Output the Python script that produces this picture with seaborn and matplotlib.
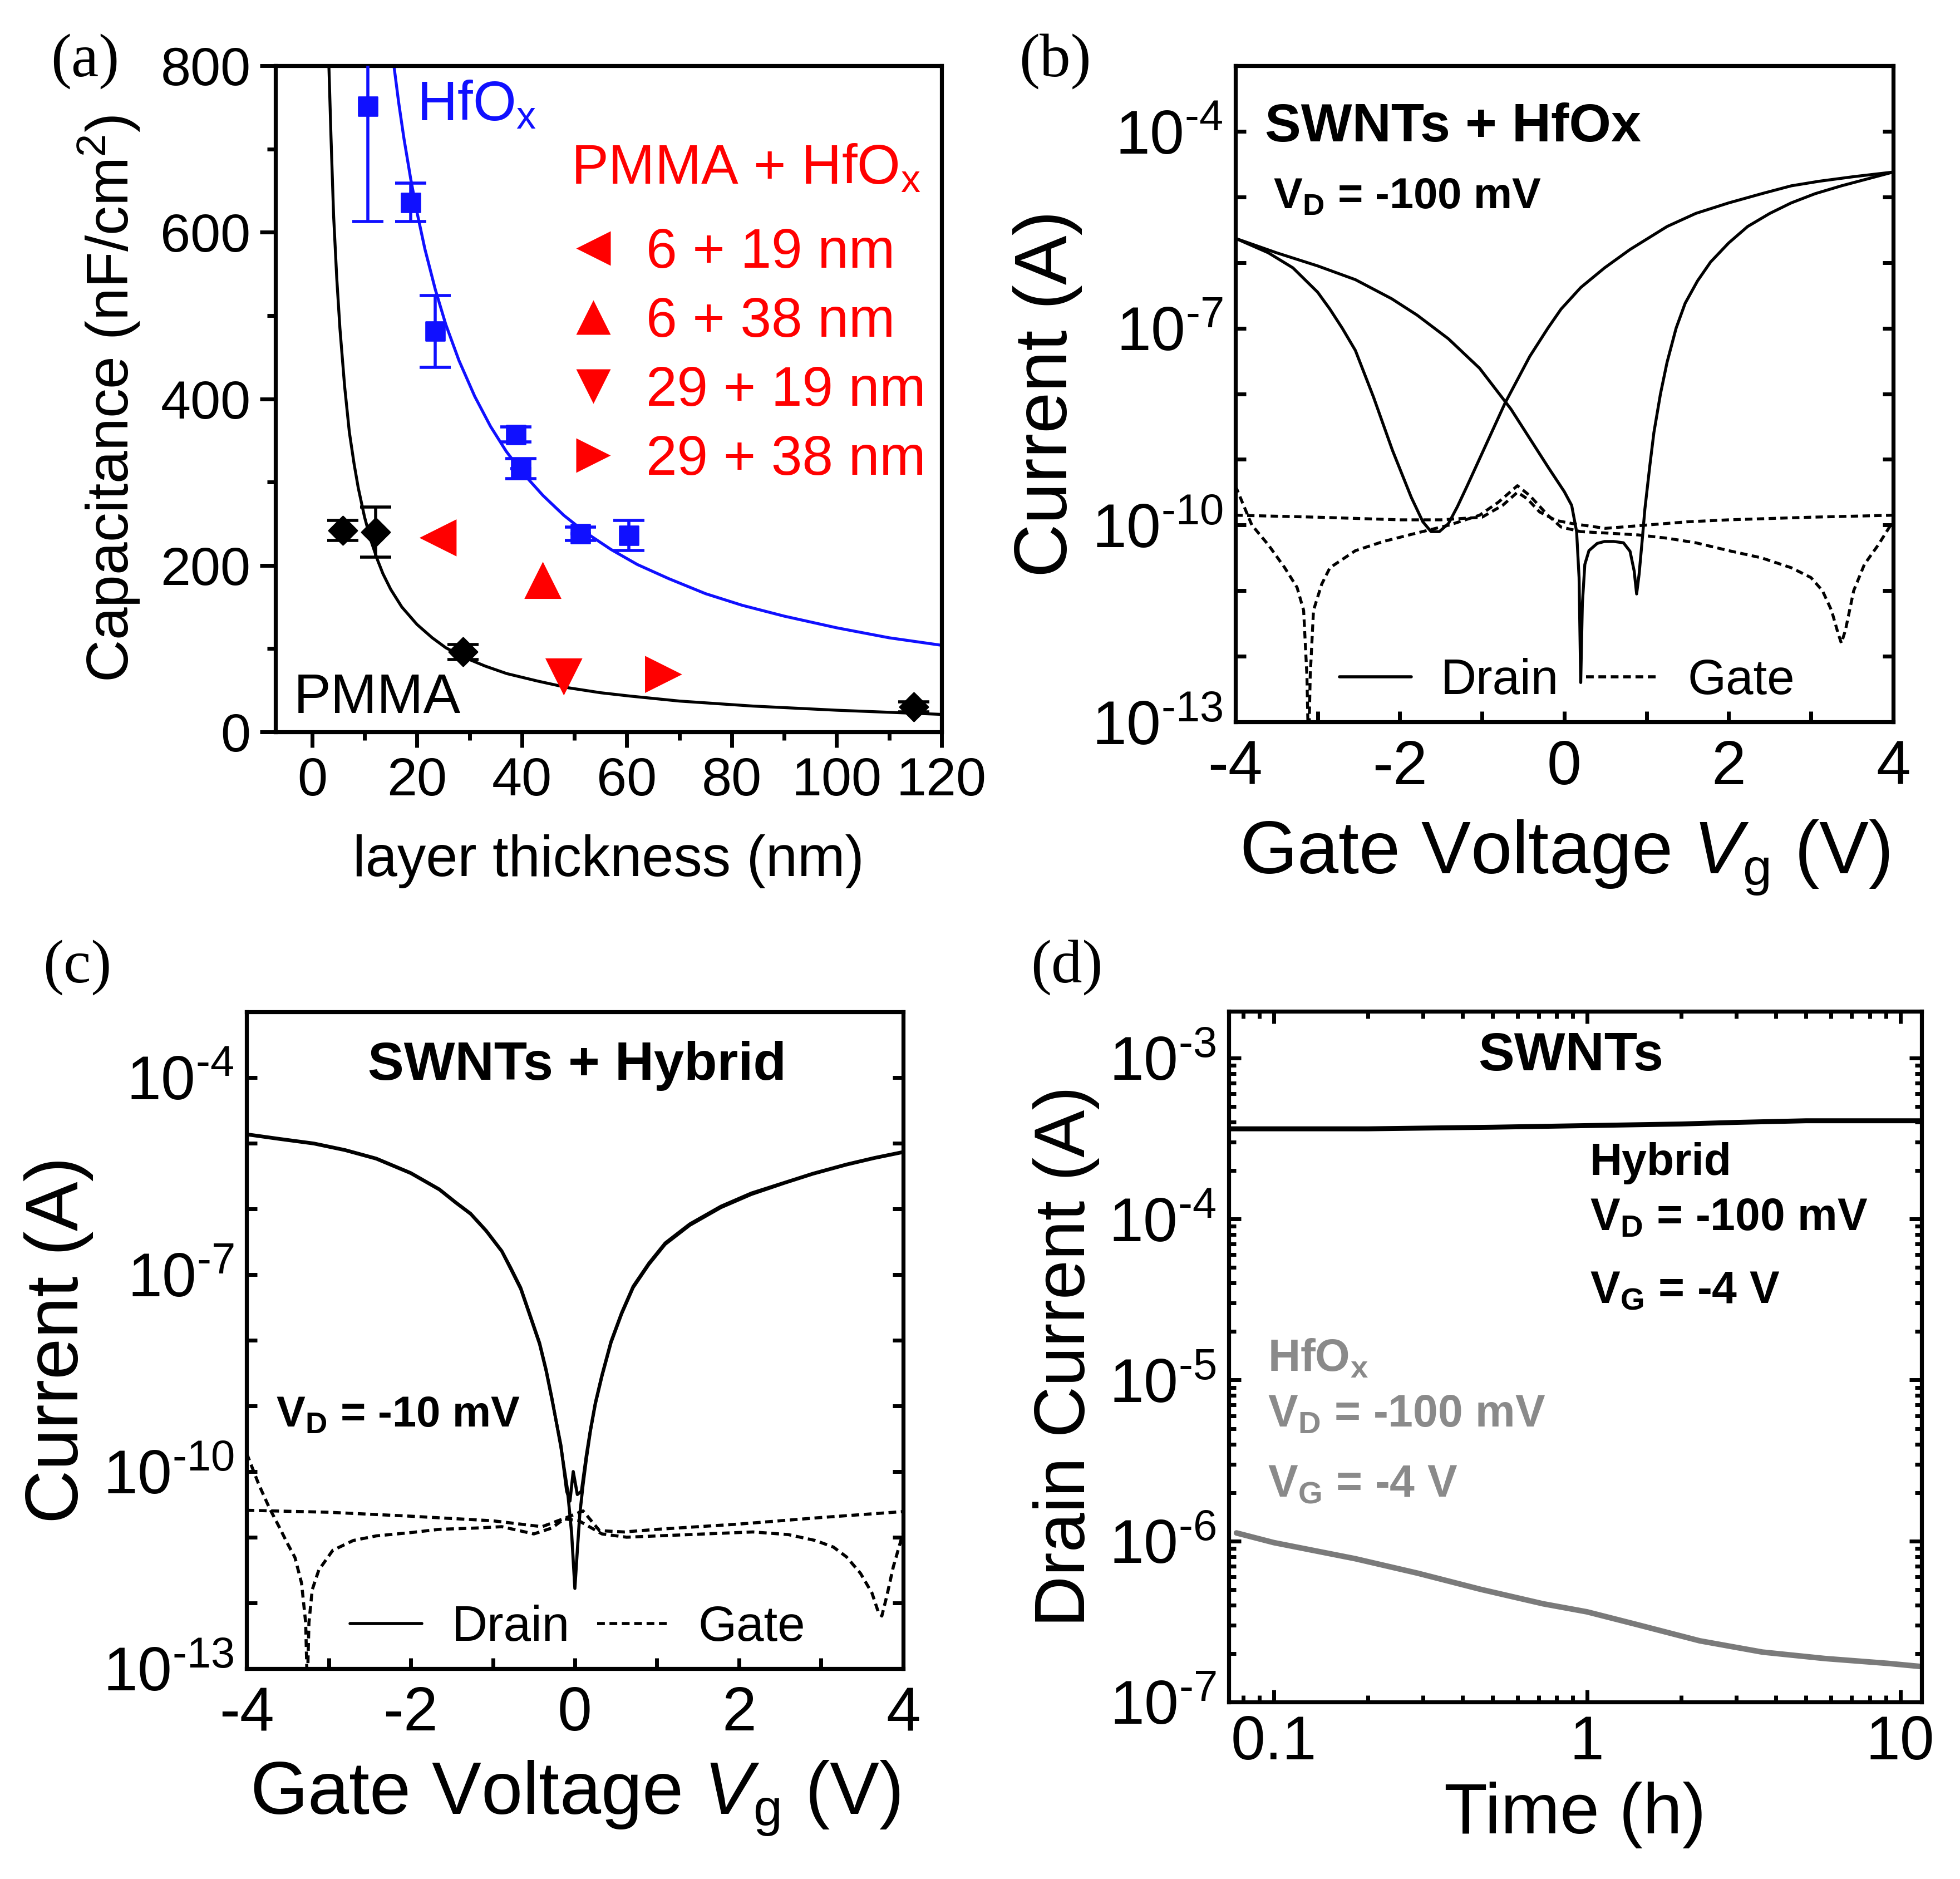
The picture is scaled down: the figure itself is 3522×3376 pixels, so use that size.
import numpy as np
import pandas as pd
import matplotlib
matplotlib.use("Agg")
import matplotlib.pyplot as plt
import matplotlib.ticker as mticker
from matplotlib.lines import Line2D
import seaborn as sns

# ---------------- (a) capacitance vs layer thickness ----------------
pmma_thick = [5.9, 12.1, 28.8, 114.7]
pmma_cap = [242, 240, 96, 30]
pmma_cap_err = [12, 30, 9, 6]
pmma_thick_err = [2.0, 1.5, 1.8, 2.0]

hfox_thick = [10.6, 18.8, 23.5, 38.8, 39.8, 51.2, 60.4]
hfox_cap = [751, 636, 481, 357, 316, 238, 236]
hfox_cap_err = [138, 23, 43, 9, 12, 8, 18]
hfox_thick_err = [0.5, 1.5, 1.0, 1.5, 2.0, 2.0, 1.0]

pmma_fit_x = [3.2, 3.6, 4.1, 4.7, 5.3, 6.2, 7.1, 8.0, 8.8, 10.0, 11.2, 12.5, 13.5, 15.0,
              17.1, 20.0, 22.9, 25.5, 28.8, 33.0, 37.1, 43.0, 48.8, 55.0, 60.6, 70.0,
              84.0, 100.0, 120.0]
pmma_fit_y = [800, 715, 620, 545, 485, 415, 360, 322, 293, 258, 230, 206, 190, 171,
              150, 129, 113, 101, 90, 79, 70, 61, 53, 47, 43, 37, 31, 26, 21]

hfox_fit_x = [15.6, 16.5, 17.5, 18.8, 20, 21.5, 23.5, 25.5, 28, 31, 34, 37, 40, 44, 48,
              52, 57, 62, 68, 75, 82, 90, 100, 110, 120]
hfox_fit_y = [800, 756, 713, 664, 624, 580, 531, 489, 446, 403, 367, 337, 312, 284, 260,
              240, 219, 201, 184, 166, 152, 139, 125, 113, 104]

stack_labels = ["6 + 19 nm", "6 + 38 nm", "29 + 19 nm", "29 + 38 nm"]
stack_markers = ["<", "^", "v", ">"]
stack_thick = [24, 44, 48, 67]
stack_cap = [233, 182, 66, 69]

# ---------------- (b) SWNTs + HfOx transfer curves (log10 of current) ----------------
b_fwd_v = [-4.0, -3.6, -3.3, -3.0, -2.85, -2.7, -2.54, -2.32, -2.09, -1.86, -1.72, -1.62,
           -1.52, -1.41, -1.30, -1.18, -0.95, -0.72, -0.42, -0.2, -0.04, 0.2, 0.49, 0.8,
           1.25, 1.6, 2.0, 2.4, 2.76, 3.1, 3.52, 4.0]
b_fwd_logi = [-5.63, -5.85, -6.08, -6.45, -6.71, -7.0, -7.34, -8.05, -8.86, -9.58, -9.95,
              -10.1, -10.1, -9.98, -9.72, -9.40, -8.77, -8.14, -7.43, -7.0, -6.71, -6.38,
              -6.08, -5.8, -5.45, -5.25, -5.09, -4.95, -4.83, -4.76, -4.69, -4.62]

b_rev_v = [-4.0, -3.5, -3.0, -2.54, -2.1, -1.79, -1.41, -1.03, -0.65, -0.42, -0.19, 0.0,
           0.09, 0.15, 0.18, 0.20, 0.22, 0.25, 0.30, 0.40, 0.49, 0.60, 0.72, 0.80, 0.85,
           0.88, 0.91, 0.95, 0.98, 1.04, 1.09, 1.17, 1.25, 1.36, 1.47, 1.62, 1.78, 2.0,
           2.23, 2.5, 2.76, 3.05, 3.37, 3.7, 4.0]
b_rev_logi = [-5.63, -5.85, -6.05, -6.26, -6.55, -6.80, -7.16, -7.61, -8.23, -8.68, -9.13,
              -9.49, -9.70, -10.1, -10.8, -12.4, -11.2, -10.6, -10.39, -10.28, -10.25,
              -10.25, -10.27, -10.40, -10.70, -11.05, -10.75, -10.2, -9.76, -9.1, -8.59,
              -8.0, -7.52, -7.0, -6.62, -6.28, -5.99, -5.70, -5.45, -5.25, -5.09, -4.95,
              -4.83, -4.72, -4.62]

b_gate1_v = [-4.0, -3.8, -3.6, -3.4, -3.25, -3.17, -3.13, -3.11, -3.09, -3.05, -2.95,
             -2.85, -2.54, -2.2, -1.79, -1.4, -1.03, -0.8, -0.57, -0.42, -0.2, -0.04, 0.2,
             0.49, 0.9, 1.25, 1.6, 2.0, 2.4, 2.76, 3.0, 3.14, 3.25, 3.33, 3.37, 3.42,
             3.52, 3.65, 3.82, 4.0]
b_gate1_logi = [-9.40, -10.0, -10.3, -10.65, -10.95, -11.3, -12.3, -13.5, -12.3, -11.3,
                -10.9, -10.65, -10.39, -10.25, -10.12, -10.0, -9.85, -9.65, -9.40, -9.55,
                -9.85, -10.03, -10.1, -10.12, -10.15, -10.20, -10.27, -10.39, -10.5,
                -10.65, -10.8, -11.0, -11.3, -11.65, -11.8, -11.6, -11.0, -10.6, -10.3,
                -9.94]

b_gate2_v = [-4.0, -3.0, -2.0, -1.5, -1.0, -0.75, -0.57, -0.45, -0.3, -0.1, 0.11, 0.5,
             1.0, 1.5, 2.0, 3.0, 4.0]
b_gate2_logi = [-9.85, -9.88, -9.92, -9.92, -9.88, -9.7, -9.5, -9.6, -9.8, -9.93, -9.98,
                -10.05, -10.0, -9.95, -9.92, -9.88, -9.85]

# ---------------- (c) SWNTs + Hybrid transfer curves (log10 of current) ----------------
c_fwd_v = [-4.0, -3.6, -3.18, -2.8, -2.42, -2.0, -1.65, -1.45, -1.27, -1.08, -0.89, -0.78,
           -0.66, -0.55, -0.43, -0.35, -0.28, -0.17, -0.09, -0.04, 0.0, 0.03, 0.06, 0.1,
           0.14, 0.19, 0.25, 0.33, 0.44, 0.57, 0.71, 0.9, 1.10, 1.4, 1.78, 2.15, 2.55,
           2.9, 3.31, 3.65, 4.0]
c_fwd_logi = [-4.86, -4.93, -5.0, -5.1, -5.23, -5.45, -5.70, -5.9, -6.07, -6.33, -6.64,
              -6.9, -7.20, -7.6, -8.04, -8.45, -8.88, -9.63, -10.28, -10.93, -11.78, -11.2,
              -10.65, -10.2, -9.81, -9.38, -8.97, -8.55, -8.04, -7.6, -7.20, -6.85, -6.54,
              -6.25, -5.98, -5.78, -5.61, -5.47, -5.33, -5.23, -5.14]

c_rev_v = [-4.0, -3.6, -3.18, -2.8, -2.42, -2.0, -1.65, -1.45, -1.27, -1.08, -0.89, -0.78,
           -0.66, -0.55, -0.43, -0.35, -0.28, -0.17, -0.10, -0.06, -0.02, 0.03, 0.08,
           0.14, 0.19, 0.25, 0.33, 0.44, 0.57, 0.71, 0.9, 1.10, 1.4, 1.78, 2.15, 2.55,
           2.9, 3.31, 3.65, 4.0]
c_rev_logi = [-4.87, -4.94, -5.01, -5.11, -5.24, -5.46, -5.71, -5.91, -6.08, -6.34, -6.65,
              -6.92, -7.22, -7.62, -8.06, -8.47, -8.9, -9.6, -10.3, -10.45, -10.0, -10.35,
              -10.3, -9.75, -9.36, -8.95, -8.53, -8.02, -7.58, -7.18, -6.83, -6.52, -6.23,
              -5.96, -5.76, -5.6, -5.46, -5.32, -5.22, -5.13]

c_gate1_v = [-4.0, -3.0, -2.0, -1.0, -0.4, -0.1, 0.1, 0.3, 0.6, 1.0, 2.0, 3.0, 4.0]
c_gate1_logi = [-10.59, -10.62, -10.68, -10.75, -10.84, -10.7, -10.6, -10.9, -10.92,
                -10.88, -10.8, -10.7, -10.61]

c_gate2_v = [-4.0, -3.85, -3.72, -3.6, -3.5, -3.41, -3.33, -3.28, -3.26, -3.24, -3.2,
             -3.12, -2.95, -2.7, -2.42, -2.0, -1.65, -1.2, -0.89, -0.5, -0.28, -0.13, 0.05,
             0.33, 0.63, 1.2, 2.17, 2.6, 2.93, 3.15, 3.31, 3.48, 3.62, 3.70, 3.74, 3.80,
             3.88, 4.0]
c_gate2_logi = [-9.72, -10.2, -10.56, -10.85, -11.1, -11.31, -11.7, -12.3, -13.3, -12.3,
                -11.8, -11.5, -11.2, -11.05, -10.98, -10.93, -10.88, -10.86, -10.84,
                -10.95, -10.86, -10.72, -10.75, -10.95, -11.0, -10.97, -10.92, -10.96,
                -11.05, -11.15, -11.3, -11.55, -11.85, -12.15, -12.2, -11.9, -11.45,
                -10.93]

# ---------------- (d) drain current vs time (log10 of current) ----------------
d_hybrid_t = [0.072, 0.2, 0.5, 1.0, 2.0, 3.0, 5.0, 11.7]
d_hybrid_logi = [-3.44, -3.44, -3.43, -3.42, -3.41, -3.40, -3.39, -3.39]

d_hfox_t = [0.076, 0.1, 0.182, 0.288, 0.457, 0.724, 1.0, 1.45, 2.29, 3.63, 5.75, 9.12, 11.7]
d_hfox_logi = [-5.95, -6.01, -6.11, -6.20, -6.30, -6.39, -6.44, -6.52, -6.62, -6.69,
               -6.73, -6.76, -6.78]

# ---------------- style ----------------
sns.set_theme(style="ticks")
plt.rcParams.update({
    "font.family": ["Liberation Sans", "DejaVu Sans"],
    "mathtext.fontset": "custom",
    "mathtext.rm": "Liberation Sans",
    "mathtext.it": "Liberation Sans:italic",
    "mathtext.bf": "Liberation Sans:bold",
    "axes.unicode_minus": False,
    "axes.edgecolor": "black",
    "axes.linewidth": 2.6,
    "xtick.color": "black",
    "ytick.color": "black",
    "text.color": "black",
    "axes.labelcolor": "black",
})

DASH = (0, (2.5, 1.5))
BLUE = "#1010ff"
RED = "#ff0000"
GREY = "#7a7a7a"


def decade_label(val, pos):
    n = int(round(np.log10(val)))
    if n < 0:
        return "10$^{\u2010%d}$" % abs(n)
    return "10$^{%d}$" % n


fig = plt.figure(figsize=(17.61, 16.88), dpi=200)
ax_a = fig.add_axes([0.1405, 0.6105, 0.3399, 0.3545])
ax_b = fig.add_axes([0.6303, 0.6158, 0.3356, 0.3492])
ax_c = fig.add_axes([0.1258, 0.1120, 0.3350, 0.3495])
ax_d = fig.add_axes([0.6269, 0.0942, 0.3535, 0.3676])

for ax in (ax_a, ax_b, ax_c, ax_d):
    for s in ax.spines.values():
        s.set_visible(True)
        s.set_linewidth(2.6)
        s.set_color("black")

# ---- (a)
ax = ax_a
sns.lineplot(x=pmma_fit_x, y=pmma_fit_y, ax=ax, color="black", lw=1.9,
             estimator=None, sort=False)
sns.lineplot(x=hfox_fit_x, y=hfox_fit_y, ax=ax, color=BLUE, lw=1.9,
             estimator=None, sort=False)
ax.errorbar(pmma_thick, pmma_cap, yerr=pmma_cap_err, fmt="none", ecolor="black",
            elinewidth=2, capsize=10, capthick=2, zorder=3)
ax.errorbar(pmma_thick, pmma_cap, xerr=pmma_thick_err, fmt="none", ecolor="black",
            elinewidth=2, capsize=0, zorder=3)
ax.errorbar(hfox_thick, hfox_cap, yerr=hfox_cap_err, fmt="none", ecolor=BLUE,
            elinewidth=2, capsize=10, capthick=2, zorder=3)
ax.errorbar(hfox_thick, hfox_cap, xerr=hfox_thick_err, fmt="none", ecolor=BLUE,
            elinewidth=2, capsize=0, zorder=3)
sns.scatterplot(x=pmma_thick, y=pmma_cap, ax=ax, marker="D", s=13 ** 2, color="black",
                edgecolor="black", zorder=4, legend=False)
sns.scatterplot(x=hfox_thick, y=hfox_cap, ax=ax, marker="s", s=12 ** 2, color=BLUE,
                edgecolor=BLUE, zorder=4, legend=False)
df_stack = pd.DataFrame({"thick": stack_thick, "cap": stack_cap, "stack": stack_labels})
sns.scatterplot(data=df_stack, x="thick", y="cap", style="stack",
                markers=dict(zip(stack_labels, stack_markers)), color=RED,
                edgecolor="none", s=24 ** 2, ax=ax, zorder=4, legend=False)

ax.set_xlim(-7, 120)
ax.set_ylim(0, 800)
ax.xaxis.set_major_locator(mticker.MultipleLocator(20))
ax.xaxis.set_minor_locator(mticker.MultipleLocator(10))
ax.yaxis.set_major_locator(mticker.MultipleLocator(200))
ax.yaxis.set_minor_locator(mticker.MultipleLocator(100))
ax.tick_params(which="both", direction="out", width=2.5, labelsize=35, pad=6,
               top=False, right=False)
ax.tick_params(which="major", length=10)
ax.tick_params(which="minor", length=5.5)
ax.set_xlabel("layer thickness (nm)", fontsize=37, labelpad=18)
ax.set_ylabel("Capacitance (nF/cm$^2$)", fontsize=38, labelpad=12)
ax.text(20, 752, "HfO$_\\mathrm{x}$", color=BLUE, fontsize=36, va="center", ha="left")
ax.text(-3.5, 40, "PMMA", color="black", fontsize=36, va="center", ha="left")
ax.text(0.444, 0.845, "PMMA + HfO$_\\mathrm{x}$", transform=ax.transAxes, color=RED,
        fontsize=36, va="center", ha="left")
handles = [Line2D([], [], marker=m, color=RED, linestyle="none", markersize=22,
                  markeredgecolor="none") for m in stack_markers]
ax.legend(handles, stack_labels, loc="upper left", bbox_to_anchor=(0.444, 0.758),
          frameon=False, fontsize=36, handlelength=0.8, handletextpad=0.55,
          labelspacing=0.30, borderpad=0, borderaxespad=0, labelcolor=RED)


def log_current_axis(ax, xlabelpad):
    ax.set_yscale("log")
    ax.set_xlim(-4, 4)
    ax.set_ylim(1e-13, 1e-3)
    ax.yaxis.set_major_locator(mticker.FixedLocator([1e-13, 1e-10, 1e-7, 1e-4]))
    ax.yaxis.set_minor_locator(mticker.FixedLocator(
        [1e-12, 1e-11, 1e-9, 1e-8, 1e-6, 1e-5]))
    ax.yaxis.set_major_formatter(mticker.FuncFormatter(decade_label))
    ax.yaxis.set_minor_formatter(mticker.NullFormatter())
    ax.xaxis.set_major_locator(mticker.MultipleLocator(2))
    ax.xaxis.set_minor_locator(mticker.MultipleLocator(1))
    ax.tick_params(which="both", direction="in", width=2.5, length=7, labelsize=40,
                   pad=8, right=True, top=False)
    ax.tick_params(axis="x", pad=11)
    ax.set_ylabel("Current (A)", fontsize=48, labelpad=6)
    ax.set_xlabel("Gate Voltage $\\mathit{V}_\\mathrm{g}$ (V)", fontsize=48,
                  labelpad=xlabelpad)
    h = [Line2D([], [], color="black", lw=2),
         Line2D([], [], color="black", lw=2, linestyle=DASH)]
    ax.legend(h, ["Drain", "Gate"], ncol=2, loc="center left",
              bbox_to_anchor=(0.158, 0.062), frameon=False, fontsize=32,
              handlelength=1.45, handletextpad=0.6, columnspacing=0.55,
              borderpad=0, borderaxespad=0)


# ---- (b)
ax = ax_b
ax.set_yscale("log")
for v, li, ls in [(b_fwd_v, b_fwd_logi, "-"), (b_rev_v, b_rev_logi, "-"),
                  (b_gate1_v, b_gate1_logi, DASH), (b_gate2_v, b_gate2_logi, DASH)]:
    sns.lineplot(x=v, y=np.power(10.0, li), ax=ax, color="black", lw=1.9,
                 linestyle=ls, estimator=None, sort=False)
log_current_axis(ax, 14)
ax.text(0.045, 0.906, "SWNTs + HfOx", transform=ax.transAxes, fontsize=35,
        fontweight="bold", va="center", ha="left")
ax.text(0.058, 0.80, "V$_\\mathbf{D}$ = -100 mV", transform=ax.transAxes, fontsize=28,
        fontweight="bold", va="center", ha="left")

# ---- (c)
ax = ax_c
ax.set_yscale("log")
for v, li, ls in [(c_fwd_v, c_fwd_logi, "-"), (c_rev_v, c_rev_logi, "-"),
                  (c_gate1_v, c_gate1_logi, DASH), (c_gate2_v, c_gate2_logi, DASH)]:
    sns.lineplot(x=v, y=np.power(10.0, li), ax=ax, color="black", lw=2.0,
                 linestyle=ls, estimator=None, sort=False)
log_current_axis(ax, 10)
ax.text(0.503, 0.918, "SWNTs + Hybrid", transform=ax.transAxes, fontsize=35,
        fontweight="bold", va="center", ha="center")
ax.text(0.045, 0.385, "V$_\\mathbf{D}$ = -10 mV", transform=ax.transAxes, fontsize=28,
        fontweight="bold", va="center", ha="left")

# ---- (d)
ax = ax_d
ax.set_xscale("log")
ax.set_yscale("log")
sns.lineplot(x=d_hybrid_t, y=np.power(10.0, d_hybrid_logi), ax=ax, color="black",
             lw=3.2, estimator=None, sort=False)
sns.lineplot(x=d_hfox_t, y=np.power(10.0, d_hfox_logi), ax=ax, color=GREY,
             lw=3.6, estimator=None, sort=False)
ax.set_xlim(0.0718, 11.7)
ax.set_ylim(1e-7, 1.95e-3)
ax.set_xticks([0.1, 1, 10], labels=["0.1", "1", "10"])
ax.xaxis.set_minor_locator(mticker.LogLocator(base=10, subs=np.arange(2, 10), numticks=20))
ax.xaxis.set_minor_formatter(mticker.NullFormatter())
ax.yaxis.set_major_locator(mticker.LogLocator(base=10, numticks=20))
ax.yaxis.set_major_formatter(mticker.FuncFormatter(decade_label))
ax.yaxis.set_minor_locator(mticker.LogLocator(base=10, subs=np.arange(2, 10), numticks=20))
ax.yaxis.set_minor_formatter(mticker.NullFormatter())
ax.tick_params(which="both", direction="in", width=2.5, labelsize=40, pad=8,
               top=True, right=True)
ax.tick_params(which="major", length=8)
ax.tick_params(which="minor", length=4.5)
ax.set_xlabel("Time (h)", fontsize=46, labelpad=6)
ax.set_ylabel("Drain Current (A)", fontsize=46, labelpad=6)
ax.text(0.494, 0.935, "SWNTs", transform=ax.transAxes, fontsize=35, fontweight="bold",
        va="center", ha="center")
for txt, yy in [("Hybrid", 0.78), ("V$_\\mathbf{D}$ = -100 mV", 0.70),
                ("V$_\\mathbf{G}$ = -4 V", 0.594)]:
    ax.text(0.521, yy, txt, transform=ax.transAxes, fontsize=29, fontweight="bold",
            va="center", ha="left", color="black")
for txt, yy in [("HfO$_\\mathbf{x}$", 0.496), ("V$_\\mathbf{D}$ = -100 mV", 0.416),
                ("V$_\\mathbf{G}$ = -4 V", 0.314)]:
    ax.text(0.056, yy, txt, transform=ax.transAxes, fontsize=29, fontweight="bold",
            va="center", ha="left", color="#8a8a8a")

# panel letters
for lab, xx, yy in [("(a)", 0.026, 0.967), ("(b)", 0.520, 0.967),
                    ("(c)", 0.022, 0.485), ("(d)", 0.526, 0.485)]:
    fig.text(xx, yy, lab, fontsize=40, family="Liberation Serif", va="center", ha="left")

fig.savefig("out.png", dpi=200)
